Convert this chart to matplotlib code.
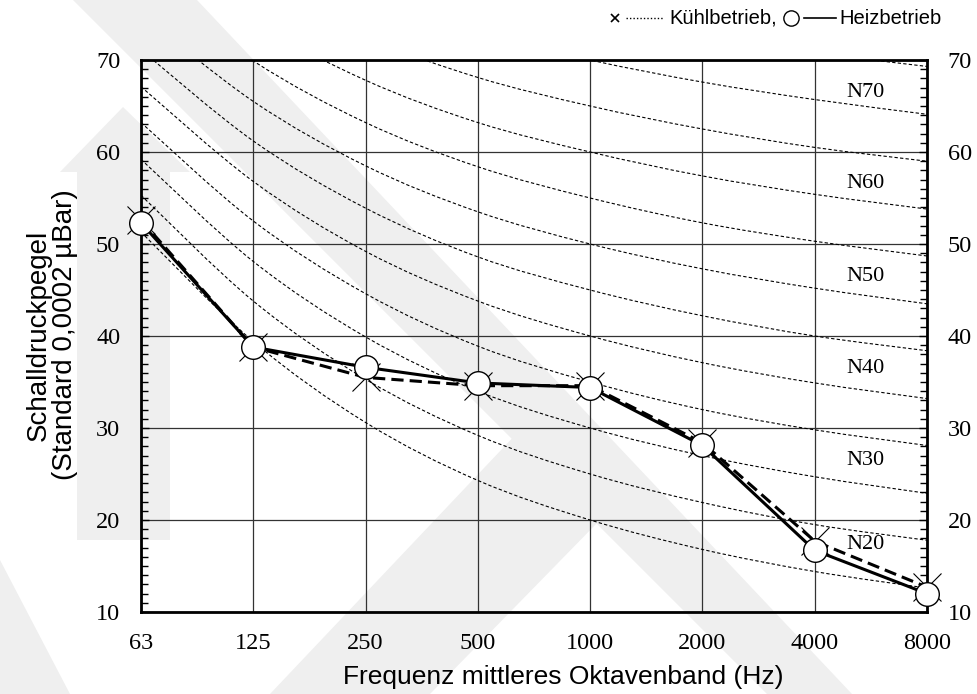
import matplotlib
matplotlib.use("Agg")
import matplotlib.pyplot as plt
from matplotlib.lines import Line2D
from matplotlib.patches import Polygon, PathPatch
from matplotlib.path import Path
from matplotlib.ticker import MultipleLocator

# octave band centre frequencies (Hz)
bands = ["63", "125", "250", "500", "1000", "2000", "4000", "8000"]

# measured sound pressure levels (dB)
heiz = [52.3, 38.8, 36.6, 34.9, 34.4, 28.1, 16.7, 12.0]
kuehl = [52.6, 38.8, 35.5, 34.6, 34.6, 28.4, 17.7, 12.7]

# noise rating curves N20 ... N75, level per octave band
nr_curves = {
    20: [51.3, 39.4, 30.6, 24.3, 20.0, 16.8, 14.4, 12.6],
    25: [55.3, 43.8, 35.3, 29.2, 25.0, 21.9, 19.5, 17.8],
    30: [59.2, 48.1, 39.9, 34.0, 30.0, 27.0, 24.7, 22.9],
    35: [63.2, 52.5, 44.6, 38.9, 35.0, 32.0, 29.8, 28.1],
    40: [67.1, 56.8, 49.2, 43.8, 40.0, 37.1, 34.9, 33.2],
    45: [71.1, 61.2, 53.9, 48.6, 45.0, 42.2, 40.0, 38.4],
    50: [75.0, 65.5, 58.5, 53.5, 50.0, 47.3, 45.2, 43.5],
    55: [79.0, 69.9, 63.2, 58.4, 55.0, 52.3, 50.3, 48.7],
    60: [82.9, 74.2, 67.8, 63.2, 60.0, 57.4, 55.4, 53.8],
    65: [86.9, 78.6, 72.5, 68.1, 65.0, 62.5, 60.5, 59.0],
    70: [90.8, 82.9, 77.1, 73.0, 70.0, 67.6, 65.7, 64.1],
    75: [94.8, 87.3, 81.8, 77.9, 75.0, 72.6, 70.8, 69.3],
}
nr_labels = ["N70", "N60", "N50", "N40", "N30", "N20"]
nr_label_y = [66.5, 56.6, 46.5, 36.5, 26.5, 17.3]

W, H = 978, 694
fig = plt.figure(figsize=(W / 100, H / 100), dpi=100)

# faint background watermark
def px(pts):
    return [(x / W, 1 - y / H) for x, y in pts]

grey = "#efefef"
for pts in [
    [(73, 0), (197, 0), (852, 694), (767, 694)],
    [(123, 107), (60, 172), (77, 172), (77, 540), (170, 540), (170, 172), (190, 172)],
    [(0, 560), (0, 694), (70, 694)],
    [(270, 694), (520, 430), (600, 520), (430, 694)],
]:
    fig.patches.append(Polygon(px(pts), closed=True, transform=fig.transFigure,
                               facecolor=grey, edgecolor="none", zorder=-10))


def smooth_path(xs, ys):
    # cubic bezier segments through every point (catmull-rom tangents)
    pts = list(zip(xs, ys))
    verts = [pts[0]]
    codes = [Path.MOVETO]
    n = len(pts)
    for i in range(n - 1):
        p0 = pts[max(i - 1, 0)]
        p1 = pts[i]
        p2 = pts[i + 1]
        p3 = pts[min(i + 2, n - 1)]
        c1 = (p1[0] + (p2[0] - p0[0]) / 6, p1[1] + (p2[1] - p0[1]) / 6)
        c2 = (p2[0] - (p3[0] - p1[0]) / 6, p2[1] - (p3[1] - p1[1]) / 6)
        verts += [c1, c2, p2]
        codes += [Path.CURVE4] * 3
    return Path(verts, codes)


ax = fig.add_axes([141 / W, 1 - 612 / H, (927 - 141) / W, (612 - 60) / H])
ax.patch.set_alpha(0)

x = list(range(len(bands)))
ax.set_xlim(0, len(bands) - 1)
ax.set_ylim(10, 70)

serif = "Liberation Serif"
sans = "Liberation Sans"

ax.set_xticks(x)
ax.set_xticklabels(bands, fontfamily=serif, fontsize=17.5)
ax.set_yticks(range(10, 71, 10))
ax.yaxis.set_minor_locator(MultipleLocator(1))
ax.tick_params(axis="x", length=0, pad=15)
ax.tick_params(axis="y", which="both", direction="in", left=True, right=True,
               labelleft=True, labelright=True, labelsize=17.5, pad=15)
ax.tick_params(axis="y", which="major", length=6, width=1)
ax.tick_params(axis="y", which="minor", length=5, width=1)
for lab in ax.get_yticklabels():
    lab.set_fontfamily(serif)

ax.grid(True, which="major", color="#333333", linewidth=0.9)
ax.set_axisbelow(True)
for s in ax.spines.values():
    s.set_linewidth(2.0)

# rating curves
for n, levels in nr_curves.items():
    ax.add_patch(PathPatch(smooth_path(x, levels), facecolor="none", edgecolor="black",
                           linewidth=0.8, linestyle=(0, (3, 2)), zorder=2))
for lab, ly in zip(nr_labels, nr_label_y):
    ax.text(6.45, ly, lab, fontfamily=serif, fontsize=16, ha="center", va="center",
            zorder=3, bbox=dict(facecolor="white", edgecolor="none", pad=0.5))

# cooling mode: dashed line, crosses
ax.plot(x, kuehl, color="black", linewidth=2.2, linestyle=(0, (4, 2)), zorder=4)
ax.plot(x, kuehl, linestyle="none", marker="x", markersize=20, markeredgewidth=0.8,
        color="black", zorder=4, clip_on=False)
# heating mode: solid line, open circles
ax.plot(x, heiz, color="black", linewidth=2.2, zorder=5)
ax.plot(x, heiz, linestyle="none", marker="o", markersize=17, markerfacecolor="white",
        markeredgecolor="black", markeredgewidth=1.0, zorder=6, clip_on=False)

fig.text(563 / W, 1 - 677 / H, "Frequenz mittleres Oktavenband (Hz)", fontfamily=sans,
         fontsize=19, ha="center", va="center")
fig.text(52 / W, 1 - 335 / H, "Schalldruckpegel\n(Standard 0,0002 µBar)", fontfamily=sans,
         fontsize=20, ha="center", va="center", rotation=90, linespacing=1.05)

# legend line at the top
ly = 1 - 18 / H
fig.lines.append(Line2D([615 / W], [ly], marker="x", markersize=6, markeredgewidth=1.2,
                        color="black", transform=fig.transFigure))
fig.lines.append(Line2D([626 / W, 664 / W], [ly, ly], color="black", linewidth=1.0,
                        linestyle=(0, (1, 1.5)), transform=fig.transFigure))
fig.text(669 / W, ly, "Kühlbetrieb,", fontfamily=sans, fontsize=14.5, ha="left", va="center")
fig.lines.append(Line2D([791 / W], [ly], marker="o", markersize=11, markerfacecolor="white",
                        markeredgecolor="black", markeredgewidth=1.0, transform=fig.transFigure))
fig.lines.append(Line2D([804 / W, 836 / W], [ly, ly], color="black", linewidth=1.2,
                        transform=fig.transFigure))
fig.text(942 / W, ly, "Heizbetrieb", fontfamily=sans, fontsize=14.5, ha="right", va="center")

fig.savefig("out.png", dpi=100)
